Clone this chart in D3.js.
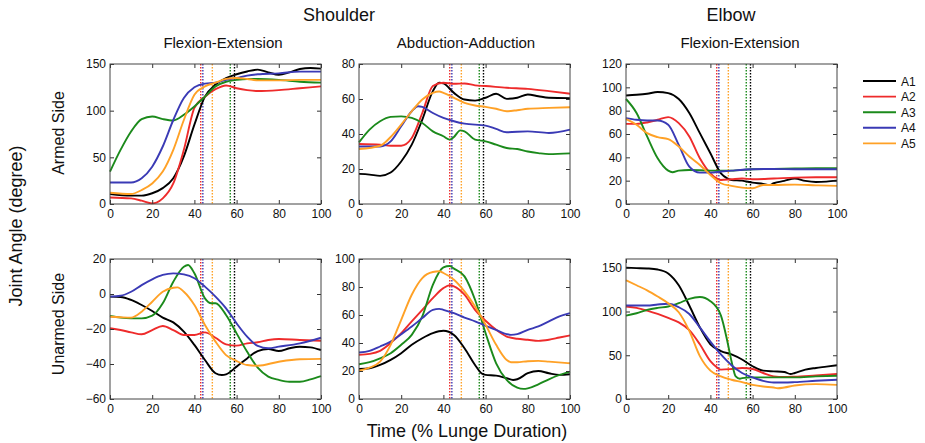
<!DOCTYPE html>
<html>
<head>
<meta charset="utf-8">
<script src="https://cdn.jsdelivr.net/npm/d3@7/dist/d3.min.js"></script>
<style>
  body { margin: 0; background: #fff; }
  text { font-family: "Liberation Sans", Arial, sans-serif; fill: #111; }
</style>
</head>
<body>
<div id="chart"></div>
<script>
// series and their colours
var seriesNames = ["A1", "A2", "A3", "A4", "A5"];
var seriesColors = ["#000000", "#ee2b2b", "#1b8a1b", "#3a3ab5", "#ffa126"];
// time (%) of the event marker for each series
var eventTimes = [59, 43, 57, 44, 48.5];

var xTicks = [0, 20, 40, 60, 80, 100];

// [time %, angle], one list per series A1..A5
var shoulderFlexArmed = [
  [[0,10.7],[10,9],[15,9],[20,11.5],[25,17],[30,27.6],[35,51],[40,85],[45,115],[50,128],[55,135],[60,139],[65,142],[70,144],[75,141],[80,138.5],[85,141],[90,144.6],[95,145.7],[100,145]],
  [[0,7],[10,6],[15,3.6],[20,0.7],[22,1.4],[25,6],[30,22],[35,58],[40,103],[45,115],[50,123],[55,127],[60,124],[65,122],[70,121],[80,122],[90,124],[100,126]],
  [[0,34.7],[5,58],[10,77.7],[15,91],[20,93.8],[25,91],[30,89.5],[35,95.6],[40,104.5],[45,115],[50,126],[55,131],[60,133],[65,134],[70,134],[80,133],[90,131],[100,130]],
  [[0,23],[10,23],[15,27.6],[20,40],[25,61.6],[30,90],[35,113.5],[40,125],[45,129],[50,130],[55,133],[60,135],[65,137.5],[70,139],[80,140],[90,141.8],[100,141.8]],
  [[0,12],[10,10.7],[15,15],[20,22],[25,34.7],[30,58],[35,90],[40,117],[45,126],[50,130],[55,134],[60,135],[65,134],[70,132.5],[80,132.5],[90,133],[100,133]]
];

var shoulderAbdArmed = [
  [[0,17.2],[5,16.8],[10,16.1],[15,18],[20,24.3],[25,33.9],[30,48.2],[35,64.5],[38,69.3],[40,68.9],[45,63.5],[50,59.7],[55,59.1],[60,60.7],[65,63],[70,60.1],[75,60.7],[80,62.6],[85,61.6],[90,60.7],[100,60.5]],
  [[0,34.3],[10,33.9],[15,33.3],[20,33.3],[25,37.7],[30,52],[35,67.4],[40,69.3],[45,68.7],[50,68.9],[55,67.8],[60,67.4],[70,66.4],[80,65.8],[90,64.5],[100,63]],
  [[0,35.2],[5,42.5],[10,47.3],[15,49.8],[20,50.1],[25,49.2],[30,46.3],[35,41.5],[40,38.7],[43,36.8],[45,38.3],[48,42.1],[50,41.5],[55,36.8],[60,35.8],[65,33.9],[70,32],[75,31.4],[80,30],[85,29.1],[90,28.5],[100,28.9]],
  [[0,32.9],[10,32.9],[15,35.8],[20,44.4],[25,53],[28,55.9],[30,55.5],[35,52],[40,49.2],[45,47.3],[50,45.9],[60,44.8],[65,42.9],[70,41],[80,41.5],[90,40.6],[100,42.5]],
  [[0,31.4],[10,33.3],[15,38.3],[20,45.4],[25,53],[30,59.7],[35,63.5],[38,64.3],[40,63.5],[45,60.7],[50,57.8],[55,56.3],[60,55.5],[65,54.4],[70,53],[75,53.6],[80,54.4],[90,54.9],[100,55.3]]
];

var elbowFlexArmed = [
  [[0,93],[5,93.6],[10,94.5],[15,96],[20,95],[25,90],[30,78],[35,60.7],[40,43.5],[45,26.3],[48,22],[50,20.6],[55,20],[60,18.3],[65,17.2],[68,16.3],[70,17.8],[75,19.8],[80,21.8],[85,19.8],[90,18.9],[95,19.2],[100,20]],
  [[0,68.7],[5,68.7],[10,69.9],[15,72.2],[20,74.5],[25,69.3],[30,57.9],[35,39.2],[40,26.3],[43,22],[45,20.6],[50,21.2],[55,21.8],[60,21.2],[70,21.8],[80,22.6],[90,22.9],[100,22.9]],
  [[0,90],[5,78],[10,57.9],[15,39.2],[20,28.6],[22,27.2],[25,28.6],[30,29.2],[40,28.6],[50,28.6],[60,29.8],[70,30],[80,30.4],[90,30.6],[100,30.6]],
  [[0,73.6],[5,72.2],[10,71.6],[15,71.6],[20,67.9],[25,50.7],[30,32],[35,26.9],[40,26.9],[45,27.8],[50,28.6],[60,29.8],[70,30],[80,29.8],[90,29.8],[100,29.8]],
  [[0,72.7],[5,67.9],[10,60.7],[15,57.3],[20,55.6],[25,49.3],[30,40.7],[35,33.5],[40,24.9],[45,17.8],[50,15.5],[55,14],[60,13.5],[65,16.3],[70,16.3],[80,16.6],[90,16],[100,15.5]]
];

var shoulderFlexUnarmed = [
  [[0,-1.5],[5,-1.7],[10,-3.4],[15,-6.3],[20,-9.7],[25,-13.5],[30,-16.2],[35,-21.5],[40,-29.1],[45,-37.7],[50,-45.3],[53,-46.3],[55,-45.9],[60,-41.5],[65,-36.8],[70,-32.6],[75,-31.4],[80,-32.6],[85,-31],[90,-30.1],[95,-30.5],[100,-32]],
  [[0,-19.6],[5,-20.6],[10,-21.9],[15,-23],[20,-20.6],[25,-18.3],[30,-20.6],[35,-23.4],[40,-23.4],[45,-21.9],[50,-25],[55,-28.8],[60,-29.5],[65,-28.2],[70,-27.6],[75,-26.3],[80,-25.7],[90,-26.3],[100,-26.7]],
  [[0,-12.6],[5,-13.5],[10,-13.9],[15,-13.9],[20,-12.4],[25,-5.3],[30,7],[35,15.6],[37,16.6],[40,11.8],[45,-2.5],[48,-5.3],[50,-5.3],[55,-12],[60,-22.5],[65,-33],[70,-42.1],[75,-47.2],[80,-49.1],[85,-50.1],[90,-50.1],[95,-48.8],[100,-46.9]],
  [[0,-1.5],[5,-1],[10,1.3],[15,5.1],[20,8.4],[25,10.9],[30,11.8],[35,11.2],[40,9],[45,4.2],[50,-1.5],[55,-8.2],[60,-16.8],[65,-24.4],[70,-29.7],[75,-31],[80,-30.1],[90,-28.2],[100,-25]],
  [[0,-13],[5,-13.3],[10,-13.5],[15,-10.1],[20,-4.4],[25,1.3],[30,3.6],[32,3.8],[35,1.3],[40,-6.3],[45,-17.7],[50,-27.2],[55,-34.9],[60,-38.3],[65,-40.6],[70,-41],[80,-38.7],[90,-37.3],[100,-37.1]]
];

var shoulderAbdUnarmed = [
  [[0,21.5],[5,22],[10,24.3],[15,27.9],[20,32.7],[25,38.7],[30,43.4],[35,47],[40,48.7],[45,45.8],[50,36.3],[55,24.3],[58,18.4],[60,17.2],[65,16.7],[70,14.8],[73,13.6],[75,14.1],[80,18.4],[85,20],[90,18.4],[95,17.2],[100,17.7]],
  [[0,31.5],[5,32.2],[10,34.4],[15,39.9],[20,47],[25,55.4],[30,63.7],[35,72.1],[40,79.2],[43,81.2],[45,80.4],[50,74.5],[55,63.7],[60,55.9],[65,49.4],[70,44.6],[75,43],[80,42.3],[85,41.5],[90,42.3],[95,43.9],[100,45.4]],
  [[0,24.8],[5,26.3],[10,29.1],[15,32.7],[20,38.7],[25,45.8],[30,59],[35,81.6],[40,94],[43,95],[45,93.1],[50,87.6],[55,70.9],[60,47],[65,25.5],[70,13.6],[75,8.1],[78,7.2],[80,7.6],[85,10.5],[90,14.1],[95,17.2],[100,19.6]],
  [[0,33.2],[5,34.4],[10,37.5],[15,41],[20,46.3],[25,51.8],[30,57.8],[35,63.7],[38,64.4],[40,63.7],[45,61.3],[50,58.2],[55,55.4],[60,52.3],[65,49.4],[70,46.3],[72,45.8],[75,46.3],[80,49.4],[85,51.8],[90,55.4],[95,59],[100,61.3]],
  [[0,20.3],[5,22.4],[10,26.7],[15,38.7],[20,56.6],[25,74.5],[30,86.4],[35,90.7],[38,91.2],[40,90],[45,85.2],[50,76.9],[55,66.1],[60,53],[65,38.7],[70,27.9],[72,26.3],[75,26.3],[80,27],[85,27.2],[90,26.7],[100,25.5]]
];

var elbowFlexUnarmed = [
  [[0,150],[5,149.6],[10,149.2],[15,148],[20,143.5],[25,130],[30,106.8],[35,81.8],[40,62.5],[45,54.8],[50,50.9],[55,45.1],[60,37.4],[65,32.4],[70,31.6],[75,30.9],[78,28.5],[80,29.7],[85,33.6],[90,35.5],[95,37],[100,38.6]],
  [[0,105.7],[5,104.1],[10,101],[15,97.2],[20,92.6],[25,87.5],[30,78.7],[35,62.5],[40,43.2],[43,36.3],[45,33.6],[50,34.3],[55,35.5],[60,34.3],[65,29.7],[70,25.8],[75,25.1],[80,25.5],[90,27],[100,28.5]],
  [[0,95.3],[5,98],[10,101.8],[15,104.1],[20,105.7],[25,109.5],[30,114.5],[35,116.5],[40,111.8],[45,95.3],[48,66.3],[50,43.2],[52,25.8],[54,23.1],[55,23.9],[60,24.7],[65,24.7],[70,24.7],[80,24.7],[90,25.8],[100,26.6]],
  [[0,106.8],[5,106.8],[10,106.8],[15,108],[20,108.8],[25,104.9],[30,97.2],[35,81.8],[40,65.6],[45,50.9],[50,38.6],[55,29.7],[60,24.7],[65,20.8],[70,18.9],[75,18.9],[80,19.3],[90,20.8],[100,22]],
  [[0,135.7],[5,130],[10,124.2],[15,117.2],[20,109.5],[25,99.1],[30,77.9],[35,49],[40,32.4],[45,25.8],[50,22],[55,19.3],[60,16.2],[65,14.3],[70,13.1],[72,12.3],[75,13.1],[80,15.4],[90,17],[100,16.2]]
];

// panel layout: column pixel ranges and row pixel ranges
var cols = [[110, 321], [359, 570], [626, 837]];
var rows = [[64, 204], [259, 399]];

var panels = [
  { data: shoulderFlexArmed,   col: 0, row: 0, domain: [0, 150],  ticks: [0, 50, 100, 150] },
  { data: shoulderAbdArmed,    col: 1, row: 0, domain: [0, 80],   ticks: [0, 20, 40, 60, 80] },
  { data: elbowFlexArmed,      col: 2, row: 0, domain: [0, 120],  ticks: [0, 20, 40, 60, 80, 100, 120] },
  { data: shoulderFlexUnarmed, col: 0, row: 1, domain: [-60, 20], ticks: [-60, -40, -20, 0, 20] },
  { data: shoulderAbdUnarmed,  col: 1, row: 1, domain: [0, 100],  ticks: [0, 20, 40, 60, 80, 100] },
  { data: elbowFlexUnarmed,    col: 2, row: 1, domain: [0, 160],  ticks: [0, 50, 100, 150] }
];

var svg = d3.select("#chart").append("svg")
  .attr("width", 925)
  .attr("height", 443);

panels.forEach(function(p) {
  var x0 = cols[p.col][0], x1 = cols[p.col][1];
  var y0 = rows[p.row][0], y1 = rows[p.row][1];
  var w = x1 - x0, h = y1 - y0;

  var g = svg.append("g").attr("transform", "translate(" + x0 + "," + y0 + ")");

  var x = d3.scaleLinear().domain([0, 100]).range([0, w]);
  var y = d3.scaleLinear().domain(p.domain).range([h, 0]);

  // event markers (dotted)
  g.append("g").selectAll("line")
    .data(eventTimes)
    .enter().append("line")
      .attr("x1", function(d) { return x(d); })
      .attr("x2", function(d) { return x(d); })
      .attr("y1", 0)
      .attr("y2", h)
      .attr("stroke", function(d, i) { return seriesColors[i]; })
      .attr("stroke-width", 1.4)
      .attr("stroke-dasharray", "1.5,1.5");

  var line = d3.line()
    .x(function(d) { return x(d[0]); })
    .y(function(d) { return y(d[1]); })
    .curve(d3.curveMonotoneX);

  g.append("g").selectAll("path")
    .data(p.data)
    .enter().append("path")
      .attr("d", line)
      .attr("fill", "none")
      .attr("stroke", function(d, i) { return seriesColors[i]; })
      .attr("stroke-width", 1.9);

  // axes with inward ticks on all four sides
  g.append("g")
    .call(d3.axisLeft(y).tickValues(p.ticks).tickSize(-4).tickSizeOuter(0).tickPadding(4));
  g.append("g")
    .attr("transform", "translate(0," + h + ")")
    .call(d3.axisBottom(x).tickValues(xTicks).tickSize(-4).tickSizeOuter(0).tickPadding(5));
  g.append("g")
    .attr("transform", "translate(" + w + ",0)")
    .call(d3.axisRight(y).tickValues(p.ticks).tickSize(-4).tickSizeOuter(0).tickFormat(""));
  g.append("g")
    .call(d3.axisTop(x).tickValues(xTicks).tickSize(-4).tickSizeOuter(0).tickFormat(""));

  g.selectAll(".domain").remove();
  g.selectAll(".tick line").attr("stroke", "#333");
  g.selectAll(".tick text")
    .style("font-family", "'Liberation Sans', Arial, sans-serif")
    .style("font-size", "12px")
    .attr("fill", "#111");

  g.append("rect")
    .attr("width", w)
    .attr("height", h)
    .attr("fill", "none")
    .attr("stroke", "#444")
    .attr("stroke-width", 1);
});

// titles
svg.append("text").attr("x", 339).attr("y", 21)
  .attr("text-anchor", "middle").style("font-size", "18px").text("Shoulder");
svg.append("text").attr("x", 731).attr("y", 21)
  .attr("text-anchor", "middle").style("font-size", "18px").text("Elbow");
svg.append("text").attr("x", 223).attr("y", 48)
  .attr("text-anchor", "middle").style("font-size", "15px").text("Flexion-Extension");
svg.append("text").attr("x", 466).attr("y", 48)
  .attr("text-anchor", "middle").style("font-size", "15px").text("Abduction-Adduction");
svg.append("text").attr("x", 740).attr("y", 48)
  .attr("text-anchor", "middle").style("font-size", "15px").text("Flexion-Extension");

// row labels
svg.append("text")
  .attr("transform", "translate(64,133) rotate(-90)")
  .attr("text-anchor", "middle").style("font-size", "16px").text("Armed Side");
svg.append("text")
  .attr("transform", "translate(64,324) rotate(-90)")
  .attr("text-anchor", "middle").style("font-size", "16px").text("Unarmed Side");

// axis labels
svg.append("text")
  .attr("transform", "translate(22,226) rotate(-90)")
  .attr("text-anchor", "middle").style("font-size", "18px").text("Joint Angle (degree)");
svg.append("text")
  .attr("x", 467).attr("y", 437)
  .attr("text-anchor", "middle").style("font-size", "18px").text("Time (% Lunge Duration)");

// legend
var legend = svg.selectAll(".legend")
  .data(seriesNames)
  .enter().append("g")
    .attr("class", "legend")
    .attr("transform", function(d, i) { return "translate(863," + (81 + i * 15.6) + ")"; });

legend.append("line")
  .attr("x1", 0).attr("x2", 33)
  .attr("stroke", function(d, i) { return seriesColors[i]; })
  .attr("stroke-width", 1.9);

legend.append("text")
  .attr("x", 38).attr("y", 4.5)
  .style("font-size", "12px")
  .text(function(d) { return d; });
</script>
</body>
</html>
